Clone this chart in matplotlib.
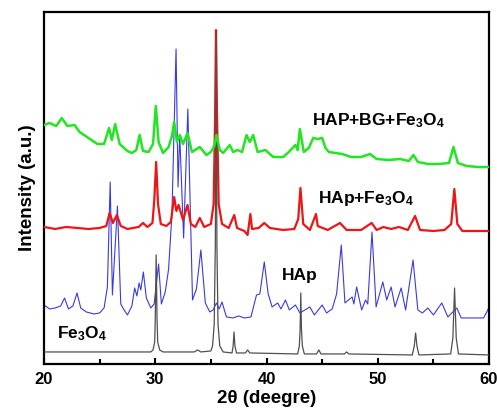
# XRD patterns: Fe3O4, HAp, HAp+Fe3O4, HAP+BG+Fe3O4 (stacked, offset intensity)
import matplotlib
matplotlib.use("Agg")
import matplotlib.pyplot as plt
from matplotlib.ticker import MultipleLocator

# DATA (2theta in degrees, intensity in arbitrary stacked units)
fe3o4_2theta = [20.0, 24.0, 27.0, 29.6, 29.8, 29.95, 30.0, 30.08, 30.16, 30.22,
                30.4, 30.7, 33.5, 33.8, 34.1, 35.0, 35.15, 35.3, 35.4, 35.47,
                35.54, 35.64, 35.8, 36.1, 36.9, 37.0, 37.08, 37.16, 37.3, 38.1,
                38.3, 38.5, 42.8, 42.95, 43.02, 43.08, 43.14, 43.22, 43.4, 44.5,
                44.7, 44.9, 47.0, 47.2, 47.4, 53.1, 53.28, 53.4, 53.52, 53.7,
                56.55, 56.75, 56.9, 57.05, 57.25, 60.0]
fe3o4_int = [12, 12, 12, 12, 14, 22, 45, 109, 45, 22,
             14, 12, 12, 14, 12, 13, 18, 40, 120, 332,
             120, 40, 18, 12, 11, 18, 32, 18, 11, 11,
             14, 11, 10, 18, 35, 71, 35, 18, 10, 10,
             14, 10, 10, 12, 10, 9, 18, 31, 18, 9,
             10, 26, 76, 26, 10, 9]

hap_2theta = [20.0, 20.5, 21.0, 21.5, 21.85, 22.2, 22.6, 22.97, 23.3, 23.8,
              24.5, 25.0, 25.4, 25.7, 25.95, 26.15, 26.6, 26.9, 27.2, 27.5,
              27.9, 28.15, 28.35, 28.55, 28.7, 28.93, 29.2, 29.6, 29.9, 30.3,
              30.55, 30.9, 31.2, 31.5, 31.87, 32.05, 32.2, 32.55, 32.93, 33.35,
              33.7, 34.1, 34.5, 34.9, 35.2, 35.5, 35.75, 36.0, 36.4, 37.0,
              37.5, 38.0, 38.6, 39.1, 39.4, 39.8, 40.15, 40.5, 41.0, 41.3,
              41.7, 42.05, 42.6, 43.0, 43.9, 44.3, 45.0, 45.4, 45.9, 46.3,
              46.72, 47.05, 47.7, 47.85, 48.1, 48.55, 48.9, 49.1, 49.48, 49.85,
              50.45, 50.8, 51.2, 51.55, 52.1, 52.5, 53.17, 53.6, 54.0, 54.5,
              55.0, 55.75, 56.3, 57.1, 57.5, 58.5, 59.5, 59.8, 60.0]
hap_int = [59, 55, 56, 58, 66, 55, 58, 71, 56, 52,
           50, 51, 56, 77, 182, 69, 158, 60, 54, 49,
           58, 76, 68, 81, 74, 92, 66, 56, 60, 100,
           60, 72, 95, 150, 315, 177, 229, 126, 255, 64,
           75, 114, 61, 52, 54, 61, 55, 62, 47, 46,
           48, 46, 47, 69, 70, 102, 70, 57, 61, 55,
           64, 54, 59, 51, 57, 49, 59, 51, 55, 70,
           119, 61, 67, 60, 77, 54, 64, 60, 132, 57,
           82, 64, 77, 57, 76, 54, 104, 54, 51, 56,
           49, 61, 47, 56, 46, 46, 46, 52, 57]

hapfe_2theta = [20.0, 21.0, 22.0, 23.0, 24.0, 25.0, 25.6, 25.9, 26.2, 26.55,
                26.9, 27.5, 28.5, 28.9, 29.3, 29.75, 29.92, 30.08, 30.25, 30.5,
                31.0, 31.4, 31.7, 31.9, 32.1, 32.5, 32.9, 33.2, 33.6, 34.0,
                34.4, 35.0, 35.25, 35.38, 35.46, 35.55, 35.7, 36.0, 36.6, 37.1,
                37.35, 38.0, 38.3, 38.55, 38.7, 39.3, 39.8, 40.3, 41.5, 42.5,
                42.85, 43.05, 43.3, 43.9, 44.45, 44.6, 45.5, 46.6, 47.2, 48.5,
                49.45, 49.9, 50.5, 51.2, 51.9, 52.7, 53.35, 53.8, 55.0, 56.0,
                56.6, 56.88, 57.15, 57.6, 60.0]
hapfe_int = [137, 135, 137, 136, 135, 136, 138, 151, 141, 149,
             138, 135, 137, 141, 137, 141, 165, 202, 160, 140,
             138, 142, 167, 153, 159, 144, 159, 140, 137, 146,
             137, 140, 160, 250, 334, 250, 160, 140, 136, 149,
             136, 133, 129, 150, 135, 136, 141, 136, 134, 135,
             145, 176, 140, 134, 150, 138, 134, 141, 134, 134,
             141, 134, 137, 135, 137, 134, 148, 134, 133, 134,
             140, 175, 140, 133, 133]

hapbg_2theta = [20.0, 20.5, 21.1, 21.6, 22.1, 22.75, 23.2, 24.0, 24.8, 25.4,
                25.85, 26.1, 26.4, 26.8, 27.5, 27.9, 28.3, 28.6, 28.9, 29.4,
                29.8, 30.05, 30.3, 30.7, 31.2, 31.5, 31.7, 31.95, 32.2, 32.5,
                32.9, 33.3, 34.0, 34.6, 35.0, 35.3, 35.5, 35.8, 36.1, 36.7,
                37.0, 37.4, 37.8, 38.2, 38.5, 38.8, 39.2, 39.9, 40.6, 41.5,
                42.0, 42.6, 42.8, 43.0, 43.35, 43.8, 44.2, 44.6, 45.0, 45.3,
                45.6, 46.8, 47.6, 48.5, 49.3, 49.9, 51.0, 52.0, 52.8, 53.2,
                53.6, 54.5, 55.5, 56.4, 56.8, 57.2, 58.0, 59.0, 60.0]
hapbg_int = [239, 241, 238, 246, 238, 239, 232, 226, 220, 220,
             236, 224, 240, 220, 213, 211, 214, 229, 213, 212,
             220, 258, 222, 211, 217, 228, 242, 222, 229, 220,
             231, 212, 217, 209, 212, 218, 229, 214, 211, 219,
             212, 214, 212, 229, 222, 229, 212, 214, 207, 207,
             212, 219, 214, 235, 212, 216, 226, 225, 226, 216,
             212, 210, 207, 207, 210, 205, 204, 205, 203, 209,
             202, 200, 200, 201, 217, 201, 198, 197, 197]

plt.rcParams['font.family'] = ['Liberation Sans', 'DejaVu Sans']
plt.rcParams['font.weight'] = 'bold'
plt.rcParams['mathtext.fontset'] = 'custom'
plt.rcParams['mathtext.rm'] = 'Liberation Sans:bold'
plt.rcParams['mathtext.it'] = 'Liberation Sans:bold'
plt.rcParams['mathtext.bf'] = 'Liberation Sans:bold'

fig = plt.figure(figsize=(4.97, 4.15), dpi=100)
ax = fig.add_axes([0.0885, 0.123, 0.8955, 0.848])

# traces
ax.plot(hap_2theta, hap_int, color='#3a3ae0', lw=0.8, zorder=2)
ax.plot(hapfe_2theta, hapfe_int, color='#ee1515', lw=1.6, zorder=3)
ax.plot(fe3o4_2theta, fe3o4_int, color='#505050', lw=0.9, zorder=4)
ax.plot(hapbg_2theta, hapbg_int, color='#22e622', lw=1.8, zorder=5)

# labels on traces
ax.text(44.1, 239, 'HAP+BG+Fe$_3$O$_4$', fontsize=12.5, fontweight='bold')
ax.text(44.6, 161, 'HAp+Fe$_3$O$_4$', fontsize=12.5, fontweight='bold')
ax.text(41.4, 84, 'HAp', fontsize=12.5, fontweight='bold')
ax.text(21.2, 26, 'Fe$_3$O$_4$', fontsize=12.5, fontweight='bold')

ax.set_xlim(20, 60)
ax.set_ylim(0, 352)
ax.set_xlabel('2θ (deegre)', fontsize=13.5, fontweight='bold', labelpad=2)
ax.set_ylabel('Intensity (a.u.)', fontsize=13.5, fontweight='bold', labelpad=6)

ax.xaxis.set_major_locator(MultipleLocator(10))
ax.xaxis.set_minor_locator(MultipleLocator(5))
ax.set_yticks([])
ax.tick_params(axis='x', which='major', direction='in', length=4, width=1.5,
               labelsize=12, pad=6)
ax.tick_params(axis='x', which='minor', direction='in', length=3.5, width=1.5)
for sp in ax.spines.values():
    sp.set_linewidth(1.6)

fig.savefig('out.png', dpi=100)
